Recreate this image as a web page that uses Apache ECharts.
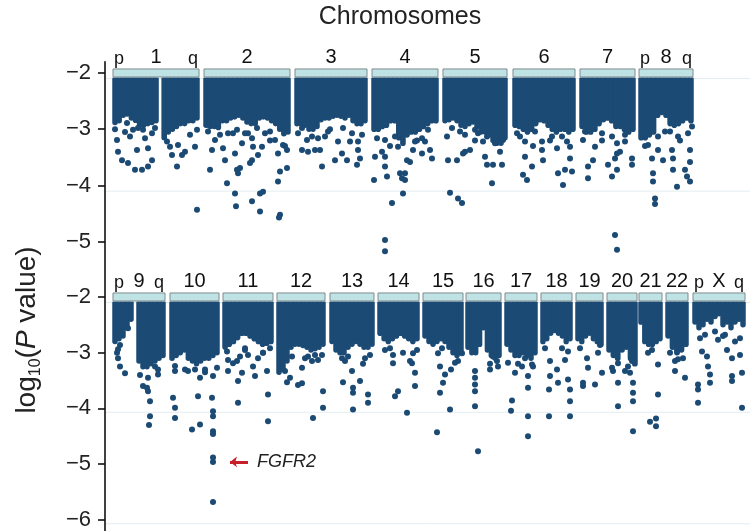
<!DOCTYPE html>
<html>
<head>
<meta charset="utf-8">
<script src="https://cdn.jsdelivr.net/npm/echarts@6/dist/echarts.min.js"></script>
<style>html,body{margin:0;padding:0;background:#fff}#main{width:750px;height:531px}</style>
</head>
<body>
<div id="main"></div>
<script>
// chromosomes: row 0 = upper panel, row 1 = lower panel; x is position along the genome (plot units)
var chrNames = ['1','2','3','4','5','6','7','8','9','10','11','12','13','14','15','16','17','18','19','20','21','22','X'];
var chrRow   = [0,0,0,0,0,0,0,0,1,1,1,1,1,1,1,1,1,1,1,1,1,1,1];
var chrStart = [8,99,190,267,338,408,475,534, 8,65,118,172,225,273,318,361,400,436,471,502,534,561,588];
var chrEnd   = [94,185,262,333,402,470,530,588, 60,114,168,220,269,314,358,396,432,467,498,532,557,583,640];
var chrArms  = ['1','8','9','X'];

// depth of the dense cloud of points below -2, read column by column (null = centromere gap)
var bandDepth = [
  [-2.93,-2.9,-2.8,-2.78,-2.85,-2.89,-2.98,-2.98,-2.95,-2.93,-2.9,null,-3.2,-3.1,-3.05,-3.0,-2.95,-2.95,-2.9,-2.9,-2.85],
  [-2.98,-3.0,-3.0,-3.02,-2.9,-2.9,-2.85,-2.83,-2.8,-2.85,-2.92,-2.95,-2.95,-2.85,-2.83,-2.85,-2.9,-2.95,-3.05,-3.13,-3.1],
  [-2.95,-2.95,-2.98,-3.05,-3.05,-3.0,-2.88,-2.85,-2.85,-2.82,-2.8,-2.82,-2.85,-2.8,-2.9,-2.95,-2.95,-2.9],
  [-3.05,-3.05,-3.0,-2.98,-2.9,-2.9,-3.2,-3.3,-3.15,-3.1,-3.1,-3.05,-3.0,-2.95,-2.9,-2.9],
  [-2.9,-2.88,-2.85,-2.9,-2.98,-3.0,-2.95,-2.92,-3.0,-3.1,-3.1,-3.15,-3.25,-3.3,-3.3,-3.2],
  [-2.98,-3.0,-3.05,-3.1,-3.05,-2.95,-2.88,-2.9,-2.98,-3.05,-3.1,-3.05,-3.05,-3.1,-3.05],
  [-3.0,-3.1,-3.1,-3.05,-2.95,-2.88,-2.85,-2.9,-3.0,-3.0,-3.05,-3.1,-3.05],
  [-3.2,-3.2,-3.15,-3.1,-2.8,-2.75,-2.8,-2.95,-2.98,-2.95,-2.9,-2.85,-2.9],
  [-2.85,-2.8,-2.75,-2.6,-2.45,null,-3.2,-3.3,-3.3,-3.25,-3.2,-3.15,-3.1],
  [-3.15,-3.1,-3.05,-3.0,-3.15,-3.2,-3.25,-3.2,-3.15,-3.15,-3.1,-3.05],
  [-2.95,-2.9,-2.85,-2.78,-2.7,-2.7,-2.75,-2.8,-2.85,-2.9,-2.88,-2.85],
  [-3.4,-3.35,-3.2,-2.95,-2.9,-2.9,-2.92,-2.95,-3.0,-2.98,-2.95,-2.9],
  [-2.85,-3.0,-3.05,-3.05,-2.95,-2.9,-2.85,-2.9,-2.95,-2.95,-2.9],
  [-2.7,-2.8,-2.85,-2.8,-2.75,-2.7,-2.75,-2.8,-2.85,-2.8],
  [-2.75,-2.85,-2.9,-2.85,-2.8,-2.85,-2.95,-3.05,-3.1,-3.05],
  [-2.95,-3.05,-3.05,-2.9,-2.6,-3.0,-3.1,-3.15,-3.1],
  [-2.9,-3.0,-3.1,-3.1,-3.05,-3.1,-3.15,-3.05],
  [-2.85,-2.8,-2.7,-2.65,-2.7,-2.75,-2.85,-2.8],
  [-2.8,-2.85,-2.75,-2.7,-2.8,-2.85,-2.9],
  [-3.0,-3.1,-3.15,-3.0,-2.95,-3.15,-3.25],
  [-2.5,-2.85,-2.9,-2.9,-2.85,-2.8],
  [-2.75,-2.95,-3.05,-3.0,-2.9],
  [-2.5,-2.6,-2.55,-2.45,-2.5,-2.4,-2.35,-2.55,-2.5,-2.6,-2.5,-2.45,-2.55]
];

// individual points outside the dense cloud: [position, log10(P)]
var topPoints = [
  [12,-3.19],[13,-3.40],[17,-3.55],[23,-3.60],[30,-3.72],[37,-3.72],[43,-3.66],[47,-3.55],[32,-3.37],[43,-3.34],[40,-3.16],[25,-3.13],[33,-2.98],[50,-2.98],[65,-3.31],[67,-3.46],[72,-3.66],[77,-3.46],[80,-3.40],[92,-3.01],[90,-3.31],[92,-4.43],[73,-3.28],[20,-3.05],[10,-3.0],
  [22,-2.89],[28,-3.01],[38,-3.01],[47,-3.07],[62,-3.22],[85,-3.1],
  [103,-3.04],[107,-3.37],[105,-3.72],[110,-3.19],[118,-3.34],[120,-3.55],[122,-3.96],[128,-3.07],[130,-3.43],[132,-3.72],[133,-3.78],[135,-3.69],[130,-4.14],[131,-4.37],[137,-3.25],[140,-3.07],[147,-3.16],[148,-3.31],[147,-3.55],[145,-3.60],[153,-3.46],[157,-3.31],[147,-4.28],[155,-4.14],[158,-4.11],[155,-4.46],[173,-3.43],[175,-3.75],[182,-3.69],[173,-3.93],[175,-4.52],[174,-4.57],[170,-3.19],[160,-3.07],[165,-3.2],[180,-3.3],
  [103,-2.92],[115,-3.1],[123,-3.07],[132,-3.01],[143,-3.07],[152,-2.98],[165,-3.04],[178,-3.28],[182,-3.37],
  [193,-3.07],[197,-3.37],[202,-3.19],[203,-3.40],[210,-3.37],[215,-3.37],[217,-3.66],[220,-3.13],[230,-3.55],[233,-3.22],[237,-3.43],[242,-3.55],[245,-3.22],[247,-3.07],[253,-3.22],[253,-3.37],[255,-3.52],[252,-3.63],[207,-3.13],[225,-3.0],
  [197,-2.98],[213,-3.16],[223,-3.04],[238,-2.98],[257,-3.1],
  [269,-3.90],[270,-3.49],[277,-3.40],[280,-3.49],[280,-3.66],[282,-3.84],[287,-4.31],[290,-3.13],[293,-3.31],[295,-3.78],[297,-3.87],[300,-3.78],[300,-3.90],[298,-4.14],[302,-3.55],[308,-3.37],[317,-3.43],[320,-3.22],[323,-3.01],[325,-3.37],[327,-3.52],[305,-3.58],[280,-4.97],[280,-5.17],[285,-3.3],[312,-3.2],
  [272,-3.16],[280,-3.19],[310,-3.22],[317,-3.16],
  [342,-3.13],[343,-3.55],[352,-3.55],[355,-3.04],[360,-3.40],[365,-3.37],[373,-3.07],[378,-3.22],[380,-3.49],[382,-3.63],[388,-3.63],[397,-3.63],[387,-3.96],[390,-3.25],[398,-3.19],[345,-4.13],[353,-4.23],[357,-4.31],[395,-3.40],[358,-3.43],[370,-3.2],
  [347,-2.98],[360,-3.1],[370,-3.01],[382,-3.13],
  [412,-3.07],[420,-3.22],[420,-3.49],[418,-3.81],[422,-3.90],[427,-3.66],[437,-3.22],[437,-3.37],[438,-3.55],[452,-3.34],[453,-3.78],[458,-3.99],[460,-3.72],[465,-3.52],[465,-3.31],[457,-3.13],[467,-3.75],[428,-3.3],[445,-3.2],
  [415,-3.13],[430,-3.04],[447,-3.13],[462,-3.22],
  [480,-3.04],[483,-3.66],[483,-3.87],[490,-3.31],[488,-3.55],[503,-3.63],[507,-3.84],[510,-3.52],[512,-3.72],[512,-3.25],[515,-3.40],[527,-3.52],[527,-3.63],[520,-3.10],[512,-3.43],[510,-4.88],[512,-5.14],[497,-3.2],
  [478,-3.19],[497,-3.07],[507,-3.13],[520,-3.22],
  [547,-3.52],[548,-3.78],[548,-3.93],[550,-4.23],[550,-4.33],[553,-3.37],[558,-3.55],[567,-3.37],[568,-3.52],[568,-3.72],[572,-4.02],[565,-3.04],[580,-3.72],[582,-3.84],[585,-3.93],[585,-3.58],[585,-3.37],[583,-3.07],[553,-3.13],[540,-3.3],[575,-3.2],
  [543,-3.28],[560,-3.04],[573,-3.13],[587,-2.95]
];
var bottomPoints = [
  [15,-2.86],[13,-3.10],[15,-3.25],[20,-3.37],[23,-2.56],[38,-3.60],[42,-3.63],[43,-3.69],[45,-3.87],[45,-4.14],[44,-4.30],[53,-3.39],[50,-3.25],[12,-3.0],[35,-3.4],
  [13,-2.94],[43,-3.45],[53,-3.3],
  [70,-3.33],[68,-3.81],[70,-3.99],[70,-4.17],[87,-4.38],[95,-4.29],[95,-3.45],[93,-3.78],[107,-3.81],[108,-3.42],[108,-4.05],[108,-4.14],[108,-4.41],[108,-4.46],[108,-4.88],[108,-4.96],[108,-5.68],[90,-3.30],[80,-3.3],[100,-3.35],
  [70,-3.24],[83,-3.33],[100,-3.30],[112,-3.27],
  [123,-3.13],[123,-3.33],[128,-3.19],[132,-3.15],[135,-3.07],[137,-3.36],[133,-3.51],[133,-3.90],[148,-3.25],[150,-3.42],[153,-3.10],[162,-3.33],[163,-3.75],[163,-4.23],[143,-3.04],[140,-2.95],[158,-3.0],
  [122,-2.98],[140,-2.92],[158,-3.0],[165,-2.92],
  [182,-3.53],[180,-3.33],[193,-3.58],[197,-3.55],[197,-3.27],[207,-3.15],[210,-3.04],[217,-3.04],[218,-3.69],[218,-3.99],[208,-4.17],[203,-3.07],[185,-3.45],
  [187,-3.07],[200,-3.1],[213,-3.13],
  [238,-3.53],[240,-3.15],[243,-3.07],[247,-3.33],[248,-3.63],[248,-3.72],[248,-4.02],[255,-3.51],[263,-3.75],[263,-3.90],[265,-3.04],[258,-3.2],
  [237,-3.1],[260,-3.1],
  [288,-3.04],[288,-3.19],[293,-3.69],[290,-3.78],[302,-4.08],[305,-3.15],[308,-3.01],[310,-3.36],[310,-3.60],[307,-3.19],[298,-3.0],[280,-2.95],
  [285,-2.92],[312,-2.95],
  [333,-3.01],[335,-3.25],[340,-3.39],[338,-3.54],[335,-3.72],[345,-4.02],[332,-4.43],[353,-3.15],[357,-3.01],[346,-3.3],
  [337,-2.92],[350,-3.18],
  [370,-3.33],[370,-3.45],[370,-3.57],[370,-3.69],[370,-3.96],[373,-4.77],[388,-3.07],[392,-3.15],[393,-3.25],[385,-3.2],[385,-3.3],
  [410,-3.36],[407,-3.86],[406,-4.04],[423,-3.42],[423,-3.63],[423,-4.14],[423,-4.50],[417,-3.25],[428,-3.25],[420,-3.10],[413,-3.2],
  [403,-3.18],[427,-3.21],
  [445,-3.15],[445,-3.42],[444,-3.66],[444,-4.14],[452,-3.30],[453,-3.54],[457,-2.92],[463,-3.48],[465,-3.66],[465,-3.87],[465,-4.14],[460,-3.13],
  [440,-2.92],[463,-2.98],
  [478,-3.54],[478,-3.60],[482,-3.10],[483,-3.27],[490,-3.57],[493,-3.00],[497,-3.36],[475,-2.92],[495,-2.86],
  [508,-3.33],[513,-3.54],[513,-3.96],[513,-3.19],[520,-3.33],[523,-3.25],[528,-3.54],[528,-3.72],[528,-3.87],[528,-4.41],[527,-3.15],
  [507,-3.27],[525,-3.36],
  [543,-3.0],[553,-3.21],[553,-3.75],[545,-4.24],[551,-4.18],[551,-4.32],[547,-2.95],
  [570,-3.15],[570,-3.33],[580,-3.45],[578,-3.10],[565,-3.0],[573,-3.12],
  [595,-2.74],[597,-2.98],[602,-3.07],[603,-3.25],[605,-3.39],[605,-3.54],[593,-3.57],[593,-3.66],[593,-3.90],[613,-2.77],[627,-3.10],[627,-3.42],[627,-3.51],[635,-3.04],[637,-3.36],[637,-3.99],[622,-2.95],[618,-2.7],[630,-2.8],
  [600,-2.68],[620,-2.68],[635,-2.74],[610,-2.62]
];

var yTicksTop = [-2, -3, -4, -5];
var yTicksBottom = [-2, -3, -4, -5, -6];
var gridLinesTop = [-2.1, -4.1];
var gridLinesBottom = [-2.1, -4.07, -6.07];
var hit = { gene: 'FGFR2', pos: 108, value: -4.96 };

var dotColor = '#1b4a74';
var font = '"Liberation Sans", Arial, Helvetica, sans-serif';

var chart = echarts.init(document.getElementById('main'));

function chrData(row) {
  var out = [];
  for (var i = 0; i < chrNames.length; i++) {
    if (chrRow[i] === row) out.push([chrStart[i], chrEnd[i], i]);
  }
  return out;
}
function bandData(row) {
  var out = [];
  for (var i = 0; i < chrNames.length; i++) {
    if (chrRow[i] !== row) continue;
    var d = bandDepth[i], w = (chrEnd[i] - chrStart[i]) / d.length;
    for (var k = 0; k < d.length; k++) {
      if (d[k] !== null) out.push([chrStart[i] + k * w, chrStart[i] + (k + 1) * w, d[k]]);
    }
  }
  return out;
}

function renderChr(params, api) {
  var i = api.value(2);
  var a = api.coord([api.value(0), -2]), b = api.coord([api.value(1), -2]);
  var name = chrNames[i];
  var kids = [
    { type: 'rect', shape: { x: a[0], y: a[1] - 4, width: b[0] - a[0], height: 8 },
      style: { fill: '#bfe3e4', stroke: '#7f8b8d', lineWidth: 1 } },
    { type: 'text', style: { text: name, x: (a[0] + b[0]) / 2, y: a[1] - 5, align: 'center',
      verticalAlign: 'bottom', font: '20px ' + font, fill: '#111' } }
  ];
  if (chrArms.indexOf(name) >= 0) {
    kids.push({ type: 'text', style: { text: 'p', x: a[0] + 1, y: a[1] - 5, align: 'left', verticalAlign: 'bottom', font: '18px ' + font, fill: '#111' } });
    kids.push({ type: 'text', style: { text: 'q', x: b[0] - 1, y: a[1] - 5, align: 'right', verticalAlign: 'bottom', font: '18px ' + font, fill: '#111' } });
  }
  return { type: 'group', children: kids };
}

// each column of the dense cloud drawn as a capsule so the lower edge looks like stacked dots
function renderBand(params, api) {
  var p0 = api.coord([api.value(0), -2.08]);
  var p1 = api.coord([api.value(1), api.value(2)]);
  var w = p1[0] - p0[0] + 1.5;
  return { type: 'rect',
    shape: { x: p0[0] - 0.75, y: p0[1], width: w, height: p1[1] - p0[1], r: [1, 1, w / 2, w / 2] },
    style: { fill: dotColor } };
}

function renderGridLine(params, api) {
  var a = api.coord([0, api.value(0)]), b = api.coord([645, api.value(0)]);
  return { type: 'line', shape: { x1: a[0], y1: a[1], x2: b[0], y2: b[1] },
    style: { stroke: '#e2edf1', lineWidth: 1 } };
}

function yAxis(idx, min, max, ticks) {
  return {
    type: 'value', gridIndex: idx, min: min, max: max,
    axisLine: { show: true, lineStyle: { color: '#111', width: 1.6 } },
    axisTick: { show: true, length: 7, customValues: ticks, lineStyle: { color: '#111', width: 1.6 } },
    axisLabel: { customValues: ticks, margin: 14, fontSize: 22, color: '#222', fontFamily: font,
      formatter: function (v) { return '\u2212' + Math.abs(v); } },
    splitLine: { show: false }
  };
}

chart.setOption({
  animation: false,
  textStyle: { fontFamily: font },
  grid: [
    { left: 105, right: 0, top: 61.7, height: 222.3 },
    { left: 105, right: 0, top: 284.7, height: 247.5 }
  ],
  xAxis: [
    { type: 'value', gridIndex: 0, min: 0, max: 645, show: false },
    { type: 'value', gridIndex: 1, min: 0, max: 645, show: false }
  ],
  yAxis: [ yAxis(0, -5.75, -1.8, yTicksTop), yAxis(1, -6.2, -1.78, yTicksBottom) ],
  graphic: [
    { type: 'text', x: 400, y: 17, style: { text: 'Chromosomes', font: '25px ' + font, fill: '#222', align: 'center', verticalAlign: 'middle' } },
    { type: 'text', x: 27, y: 330, rotation: Math.PI / 2,
      style: { text: '{n|log}{s|10}{n|(}{i|P}{n| value)}', align: 'center', verticalAlign: 'middle', fill: '#222',
        rich: {
          n: { font: '28px ' + font, fill: '#222', lineHeight: 34 },
          i: { font: 'italic 28px ' + font, fill: '#222', lineHeight: 34 },
          s: { font: '16px ' + font, fill: '#222', verticalAlign: 'bottom', lineHeight: 34 }
        } } }
  ],
  series: [
    { type: 'custom', xAxisIndex: 0, yAxisIndex: 0, renderItem: renderGridLine, data: gridLinesTop.map(function (v) { return [v]; }), z: 0, silent: true },
    { type: 'custom', xAxisIndex: 1, yAxisIndex: 1, renderItem: renderGridLine, data: gridLinesBottom.map(function (v) { return [v]; }), z: 0, silent: true },
    { type: 'custom', xAxisIndex: 0, yAxisIndex: 0, renderItem: renderBand, data: bandData(0), z: 2, silent: true },
    { type: 'custom', xAxisIndex: 1, yAxisIndex: 1, renderItem: renderBand, data: bandData(1), z: 2, silent: true },
    { type: 'scatter', xAxisIndex: 0, yAxisIndex: 0, data: topPoints, symbolSize: 6, itemStyle: { color: dotColor, opacity: 1 }, z: 3 },
    { type: 'scatter', xAxisIndex: 1, yAxisIndex: 1, data: bottomPoints, symbolSize: 6, itemStyle: { color: dotColor, opacity: 1 }, z: 3,
      markLine: {
        silent: true, symbol: ['arrow', 'none'], symbolSize: [8, 7],
        lineStyle: { color: '#c8202a', width: 3, type: 'solid' },
        label: { show: true, position: 'end', formatter: hit.gene, fontStyle: 'italic', fontSize: 18, color: '#222', distance: 9 },
        data: [[ { coord: [hit.pos + 17, hit.value] }, { coord: [hit.pos + 35, hit.value] } ]]
      } },
    { type: 'custom', xAxisIndex: 0, yAxisIndex: 0, renderItem: renderChr, data: chrData(0), z: 4, silent: true },
    { type: 'custom', xAxisIndex: 1, yAxisIndex: 1, renderItem: renderChr, data: chrData(1), z: 4, silent: true }
  ]
});
</script>
</body>
</html>
